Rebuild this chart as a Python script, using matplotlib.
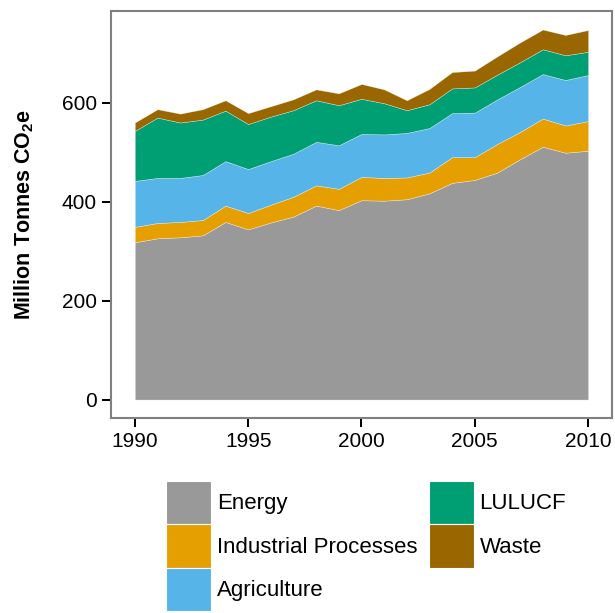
import matplotlib
matplotlib.use("Agg")
import matplotlib.pyplot as plt
from matplotlib.patches import Patch

plt.rcParams['font.family'] = ['Liberation Sans', 'DejaVu Sans']
plt.rcParams['mathtext.fontset'] = 'custom'
plt.rcParams['mathtext.rm'] = 'Liberation Sans:bold'
plt.rcParams['mathtext.it'] = 'Liberation Sans:bold'
plt.rcParams['mathtext.bf'] = 'Liberation Sans:bold'

years = list(range(1990, 2011))
energy = [318, 326, 328, 332, 359, 344, 358, 370, 392, 383, 403, 402, 405, 417, 438, 444, 459, 486, 511, 499, 503]
industrial = [31, 31, 31, 31, 33, 33, 36, 40, 41, 43, 47, 46, 44, 42, 52, 46, 58, 55, 57, 55, 60]
agriculture = [93, 91, 89, 91, 90, 89, 88, 87, 88, 88, 87, 88, 90, 90, 89, 90, 90, 91, 90, 92, 93]
lulucf = [101, 122, 112, 112, 102, 91, 90, 88, 84, 81, 71, 63, 46, 48, 50, 51, 50, 50, 50, 50, 47]
waste = [17, 17, 18, 21, 21, 22, 21, 22, 22, 24, 30, 28, 20, 31, 33, 34, 37, 40, 40, 41, 44]

labels = ["Energy", "Industrial Processes", "Agriculture", "LULUCF", "Waste"]
colors = ["#999999", "#E69F00", "#56B4E9", "#009E73", "#996600"]
xticks = [1990, 1995, 2000, 2005, 2010]
yticks = [0, 200, 400, 600]

fig = plt.figure(figsize=(6.15, 6.13), dpi=100)
ax = fig.add_axes([0.1805, 0.318, 0.8145, 0.664])
ax.stackplot(years, energy, industrial, agriculture, lulucf, waste,
             colors=colors, labels=labels, edgecolor=(1, 1, 1, 0.5), linewidth=0.4)

ax.set_xlim(1988.95, 2011.05)
ax.set_ylim(-37.4, 785.4)
ax.set_xticks(xticks)
ax.set_yticks(yticks)
ax.tick_params(axis='both', direction='out', length=6.3, width=1.45, color='black',
               labelsize=15, labelcolor='black', pad=4)
for s in ax.spines.values():
    s.set_color('#7f7f7f')
    s.set_linewidth(1.5)
ax.set_ylabel("Million Tonnes CO$_2$e", fontsize=15.5, fontweight='bold')
ax.yaxis.set_label_coords(-0.149, 0.5)

handles = [Patch(facecolor=c, edgecolor='white', linewidth=0.8) for c in colors]
leg = fig.legend(handles, labels, loc='upper left', bbox_to_anchor=(0.27, 0.2153),
                 ncol=2, frameon=False, fontsize=16, handlelength=2.03, handleheight=2.62,
                 labelspacing=0.0, handletextpad=0.26, columnspacing=0.5, borderpad=0,
                 borderaxespad=0)

fig.savefig("out.png", dpi=100)
